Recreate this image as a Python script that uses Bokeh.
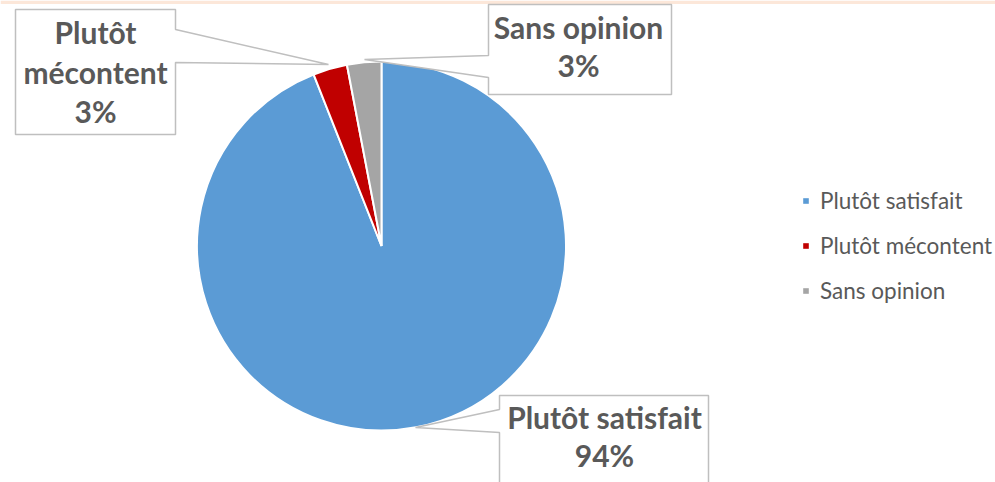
import math
from bokeh.plotting import figure
from bokeh.models import Range1d, ColumnDataSource, Legend, LegendItem
from bokeh.core.properties import value
from bokeh.embed import file_html
from bokeh.resources import INLINE

# ---- data ----
categories = ["Plutôt satisfait", "Plutôt mécontent", "Sans opinion"]
values = [94, 3, 3]
colors = ["#5B9BD5", "#C00000", "#A5A5A5"]
label_lines = [["Plutôt satisfait", "94%"], ["Plutôt", "mécontent", "3%"], ["Sans opinion", "3%"]]

W, H = 995, 482
SHIFT = 13  # baseline correction

def tx(X):
    return X

def ty(Y):
    return H - Y

p = figure(width=W, height=H, output_backend="svg", toolbar_location=None,
           x_axis_type=None, y_axis_type=None, min_border=0,
           x_range=Range1d(0, W), y_range=Range1d(0, H))
p.outline_line_color = None
p.grid.visible = False
p.background_fill_color = "white"
p.border_fill_color = "white"

# top accent strip
p.quad(left=[0], right=[W], top=[H], bottom=[ty(3.5)], fill_color="#FCE7D9", line_color=None)

# ---- pie ----
total = float(sum(values))
starts, ends = [], []
acc = 0.0
for v in values:
    starts.append(math.pi / 2 - 2 * math.pi * acc / total)
    acc += v
    ends.append(math.pi / 2 - 2 * math.pi * acc / total)

cx, cy, r = tx(381), ty(245.5), 184.5
src = ColumnDataSource(dict(cat=categories, val=values, color=colors, start=starts, end=ends,
                            x=[cx] * 3, y=[cy] * 3))
pie = p.wedge(x="x", y="y", radius=r, start_angle="start", end_angle="end", direction="clock",
              fill_color="color", line_color="white", line_width=2, source=src)

# ---- callouts (ref pixel coordinates) ----
callouts = {
    0: [(499, 395), (708, 395), (708, 490), (499, 490), (499, 432), (415, 427), (499, 409)],
    1: [(15, 9), (175, 9), (175, 29), (328, 64), (175, 62), (175, 134), (15, 134)],
    2: [(488, 4), (671, 4), (671, 94), (488, 94), (488, 77), (364, 59), (488, 55)],
}
label_pos = {
    0: (604, [429, 467]),
    1: (95, [44, 84, 123]),
    2: (578, [39, 77.5]),
}
for i in range(3):
    pts = callouts[i]
    p.patch([tx(a) for a, b in pts], [ty(b) for a, b in pts], fill_color="white",
            line_color="#BFBFBF", line_width=1.5)
    lx, ys = label_pos[i]
    p.text(x=[tx(lx)] * len(ys), y=[ty(b - SHIFT) for b in ys], text=label_lines[i],
           text_align="center", text_baseline="alphabetic", text_font=value("Lato"),
           text_font_style="bold", text_font_size="30px", text_color="#595959")

# ---- legend (proxy renderers without data, one per category) ----
items = []
for i, (c, col) in enumerate(zip(categories, colors)):
    proxy = p.wedge(x=[cx], y=[cy], radius=0, start_angle=0, end_angle=0,
                    fill_color=col, line_color=None)
    items.append(LegendItem(label=c, renderers=[proxy], index=0))

legend = Legend(items=items, location=(802, 178),
                glyph_width=7, glyph_height=7, label_standoff=11, label_height=25,
                spacing=18, padding=0, margin=0, border_line_color=None,
                background_fill_alpha=0, label_text_font="Lato", label_text_font_size="22.5px",
                label_text_color="#595959")
p.add_layout(legend, "center")

open("out.html", "w").write(file_html(p, INLINE))
